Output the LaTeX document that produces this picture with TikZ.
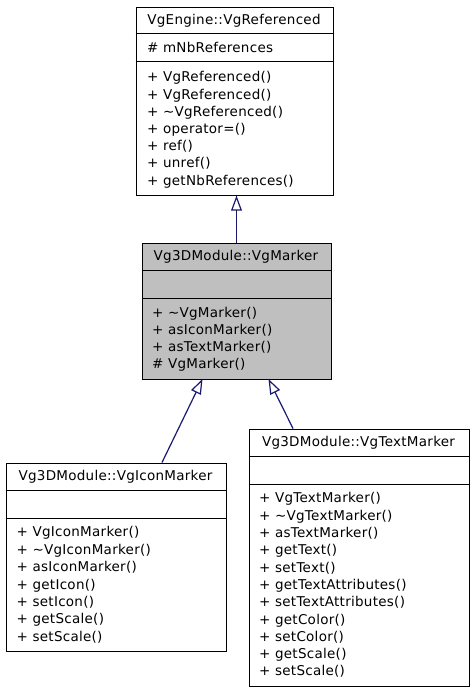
\documentclass[tikz,border=0pt]{standalone}
\usepackage{fontspec}
\newfontfamily\dvs[LetterSpace=2]{DejaVu Sans}
\usetikzlibrary{arrows.meta}
\definecolor{navy}{HTML}{191970}
\definecolor{hl}{HTML}{BFBFBF}
\tikzset{
  cls/.style={draw=black, line width=1pt, fill=white, rectangle, inner sep=0pt, anchor=north west},
  lbl/.style={inner sep=0pt, text height=9.8pt, text depth=0pt, font=\dvs\fontsize{13.5pt}{15pt}\selectfont},
  mem/.style={lbl, anchor=west},
  ttl/.style={lbl, anchor=center},
  sep/.style={draw=black, line width=1pt},
  inh/.style={draw=navy, line width=1.2pt, -{Triangle[length=15pt,width=10.7pt,fill=white]}},
}
\begin{document}
\begin{tikzpicture}[x=1pt,y=-1pt]
\useasboundingbox (0,0) rectangle (472,691);
% ---------- VgEngine::VgReferenced
\node[cls, minimum width=197pt, minimum height=188pt] (ref) at (135.5,6.5) {};
\draw[sep] (ref.west |- 0,33.5) -- (ref.east |- 0,33.5);
\draw[sep] (ref.west |- 0,61.5) -- (ref.east |- 0,61.5);
\node[ttl] (refT) at (234,20) {VgEngine::VgReferenced};
\node[mem] (refA) at (147,47.5) {\# mNbReferences};
\node[mem] (refM1) at (147,77) {+ VgReferenced()};
\node[mem] (refM2) at (147,94.2) {+ VgReferenced()};
\node[mem] (refM3) at (147,111.4) {+ \textasciitilde VgReferenced()};
\node[mem] (refM4) at (147,128.6) {+ operator=()};
\node[mem] (refM5) at (147,145.8) {+ ref()};
\node[mem] (refM6) at (147,163) {+ unref()};
\node[mem] (refM7) at (147,180.2) {+ getNbReferences()};
% ---------- Vg3DModule::VgMarker
\node[cls, fill=hl, minimum width=189pt, minimum height=136pt] (mk) at (141.5,242.5) {};
\draw[sep] (mk.west |- 0,270.5) -- (mk.east |- 0,270.5);
\draw[sep] (mk.west |- 0,298.5) -- (mk.east |- 0,298.5);
\node[ttl] (mkT) at (236,256) {Vg3DModule::VgMarker};
\node[mem] (mkM1) at (152,312.5) {+ \textasciitilde VgMarker()};
\node[mem] (mkM2) at (152,329.6) {+ asIconMarker()};
\node[mem] (mkM3) at (152,346.7) {+ asTextMarker()};
\node[mem] (mkM4) at (152,363.8) {\# VgMarker()};
% ---------- Vg3DModule::VgIconMarker
\node[cls, minimum width=220pt, minimum height=188pt] (ic) at (5.5,462.5) {};
\draw[sep] (ic.west |- 0,490.5) -- (ic.east |- 0,490.5);
\draw[sep] (ic.west |- 0,518.5) -- (ic.east |- 0,518.5);
\node[ttl] (icT) at (115.5,476) {Vg3DModule::VgIconMarker};
\node[mem] (icM1) at (16.5,532) {+ VgIconMarker()};
\node[mem] (icM2) at (16.5,549.4) {+ \textasciitilde VgIconMarker()};
\node[mem] (icM3) at (16.5,566.8) {+ asIconMarker()};
\node[mem] (icM4) at (16.5,584.2) {+ getIcon()};
\node[mem] (icM5) at (16.5,601.6) {+ setIcon()};
\node[mem] (icM6) at (16.5,619) {+ getScale()};
\node[mem] (icM7) at (16.5,636.4) {+ setScale()};
% ---------- Vg3DModule::VgTextMarker
\node[cls, minimum width=220pt, minimum height=257pt] (tm) at (248.5,428.5) {};
\draw[sep] (tm.west |- 0,456.5) -- (tm.east |- 0,456.5);
\draw[sep] (tm.west |- 0,484.5) -- (tm.east |- 0,484.5);
\node[ttl] (tmT) at (358.5,442) {Vg3DModule::VgTextMarker};
\node[mem] (tmM1) at (259,498) {+ VgTextMarker()};
\node[mem] (tmM2) at (259,515.3) {+ \textasciitilde VgTextMarker()};
\node[mem] (tmM3) at (259,532.6) {+ asTextMarker()};
\node[mem] (tmM4) at (259,549.9) {+ getText()};
\node[mem] (tmM5) at (259,567.2) {+ setText()};
\node[mem] (tmM6) at (259,584.5) {+ getTextAttributes()};
\node[mem] (tmM7) at (259,601.8) {+ setTextAttributes()};
\node[mem] (tmM8) at (259,619.1) {+ getColor()};
\node[mem] (tmM9) at (259,636.4) {+ setColor()};
\node[mem] (tmM10) at (259,653.7) {+ getScale()};
\node[mem] (tmM11) at (259,671) {+ setScale()};
% ---------- inheritance
\draw[inh] (mk.north) -- (mk.north |- ref.south);
\coordinate (icTop) at (162,462.5);
\coordinate (mkB1) at (202.5,379);
\coordinate (tmTop) at (293,428.5);
\coordinate (mkB2) at (268.5,379);
\draw[inh] (icTop) -- (mkB1);
\draw[inh] (tmTop) -- (mkB2);
\end{tikzpicture}
\end{document}
